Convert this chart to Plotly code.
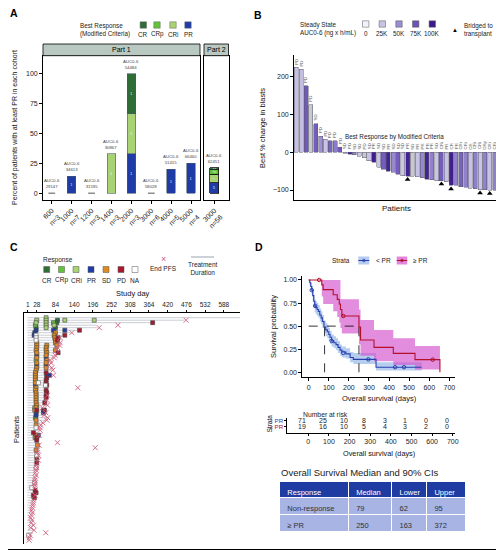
import plotly.graph_objects as go

W, H = 504, 551
OFF = 8  # the page body margin shifts the figure by 8 px
def px(v): return (v - OFF) / W
def py(v): return 1 - (v - OFF) / H

FONT = "Liberation Sans, Arial, sans-serif"
NARROW = "Liberation Sans Narrow, Liberation Sans, Arial, sans-serif"

RESP_COL = {"CR": "#2f6d37", "CRp": "#62c23a", "CRi": "#a9d275", "PR": "#1f3ca6",
            "SD": "#e08a24", "PD": "#a5182f", "NA": "#ffffff"}

# ---------------- Panel A data ----------------
a_doses = ["600", "1000", "1200", "1400", "2000", "3000", "4000", "5000"]
a_n = [3, 7, 3, 3, 3, 6, 5, 4]
a_auc = [29147, 34613, 31595, 30867, 54484, 58028, 51415, 66460]
a_pct_pr = [0, 14.3, 0, 0, 33.3, 0, 20.0, 25.0]
a_pct_cri = [0, 0, 0, 33.3, 33.3, 0, 0, 0]
a_pct_crp = [0, 0, 0, 0, 0, 0, 0, 0]
a_pct_cr = [0, 0, 0, 0, 33.4, 0, 0, 0]
a_cnt_pr = [0, 1, 0, 0, 1, 0, 1, 1]
a_cnt_cri = [0, 0, 0, 1, 1, 0, 0, 0]
a_cnt_crp = [0, 0, 0, 0, 0, 0, 0, 0]
a_cnt_cr = [0, 0, 0, 0, 1, 0, 0, 0]

a2_doses = ["3000"]
a2_n = [56]
a2_auc = [62451]
a2_pct_pr = [8.9]
a2_pct_cri = [7.1]
a2_pct_crp = [3.6]
a2_pct_cr = [1.8]
a2_cnt_pr = [5]
a2_cnt_cri = [4]
a2_cnt_crp = [2]
a2_cnt_cr = [1]

# ---------------- Panel B data ----------------
b_change = [225, 220, 176, 126, 76, 42, 35, 30, 30, 14,
            -2, -5, -6, -10, -15, -22, -27, -40, -45, -50,
            -53, -58, -62, -63, -64, -65, -68, -72, -73, -75,
            -75, -78, -88, -88, -92, -93, -95, -97, -99, -99,
            -100, -100]
b_auc = [26000, 27000, 72000, None, 70000, 48000, 25000, 68000, 58000, 72000,
         24000, 95000, 55000, 22000, None, 25000, 98000, 24000, 70000, 96000,
         52000, 70000, 24000, 97000, None, 25000, 52000, 96000, 55000, 24000,
         70000, 25000, 98000, 55000, 68000, 55000, 25000, 56000, 24000, 55000,
         25000, 56000]
b_resp = ["PD", "PD", "PD", "PD", "SD", "PD", "PD", "PD", "PD", "PD",
          "SD", "PD", "SD", "SD", "PD", "SD", "PR", "SD", "SD", "PR",
          "SD", "SD", "SD", "PR", "SD", "PR", "PR", "PR", "PR", "SD",
          "CRi", "PR", "CR", "PR", "CRi", "CRi", "CR", "CRi", "CRi", "CRp",
          "CRi", "CRi"]
b_bridged = [23, 30, 32, 38, 40]
b_auc_stops = [0, 25000, 50000, 75000, 100000]
b_auc_labels = ["0", "25K", "50K", "75K", "100K"]
b_stop_cols = ["#f3f2fa", "#c8c2e5", "#9b8ed0", "#6b52b6", "#3c1a8b"]
B_NA_COL = "#c6c9ce"

# ---------------- Panel C data ----------------
c_ticks = [1, 28, 84, 140, 196, 252, 308, 364, 420, 476, 532, 588]
c_assess = [
    [(56, "CRi")],
    [(28, "CRi"), (56, "CRi"), (90, "CR"), (112, "CRi"), (200, "CRi")],
    [(26, "CRi"), (56, "CRi"), (78, "CRp"), (88, "CR"), (375, "PD")],
    [(24, "CRp"), (56, "CRi"), (80, "CRi")],
    [(26, "CR"), (56, "CRi"), (84, "CR")],
    [(26, "PR"), (78, "PR"), (112, "PR"), (156, "PD")],
    [(22, "PR"), (84, "SD")],
    [(20, "PR"), (26, "NA"), (80, "SD"), (112, "PD")],
    [(26, "NA"), (82, "SD"), (92, "PD")],
    [(26, "NA"), (84, "SD"), (90, "PD")],
    [(28, "SD"), (84, "SD")],
    [(28, "SD"), (58, "SD"), (88, "SD")],
    [(28, "SD"), (56, "SD")],
    [(26, "SD"), (56, "SD"), (84, "SD")],
    [(28, "SD"), (58, "SD"), (92, "PD")],
    [(28, "PR"), (56, "SD")],
    [(28, "SD"), (56, "PR")],
    [(26, "CRi"), (58, "SD")],
    [(28, "SD"), (56, "SD")],
    [(28, "PR"), (56, "PR")],
    [(28, "SD"), (56, "SD")],
    [(26, "SD")],
    [(24, "SD"), (56, "PD")],
    [(24, "SD"), (58, "PR"), (66, "PR")],
    [(24, "SD"), (58, "PD")],
    [(24, "SD"), (56, "PD")],
    [(24, "SD"), (33, "NA"), (56, "PD")],
    [(24, "PR"), (54, "NA"), (58, "PD")],
    [(26, "SD")],
    [(24, "SD"), (56, "PD")],
    [(26, "SD"), (58, "PD")],
    [(26, "SD"), (56, "PD")],
    [(26, "SD"), (56, "PD")],
    [(26, "SD")],
    [(26, "SD"), (52, "PD")],
    [(28, "SD")],
    [(22, "CRi"), (26, "SD")],
    [(22, "SD"), (28, "PD"), (48, "PR"), (51, "PD")],
    [(26, "PR"), (48, "PR")],
    [(26, "PR")],
    [(24, "CRp")],
    [(26, "SD")],
    [],
    [(26, "SD")],
    [(26, "NA")],
    [],
    [(18, "PD")],
    [(24, "SD"), (26, "PR"), (33, "PR")],
    [(23, "SD"), (28, "PD")],
    [(28, "PD")],
    [],
    [(30, "SD")],
    [],
    [(26, "SD")],
    [],
    [(28, "NA")],
    [(28, "PD")],
    [],
    [(28, "PD")],
    [],
    [(26, "NA")],
    [], [], [], [], [],
    [(21, "NA")],
    [],
    [(13, "NA")],
    [(23, "PD")],
    [(26, "PD")],
    [(18, "PD")],
    [(21, "PD")],
    [], [], [], [], [], [], [], [], [], [], [], [], [], [],
    [(3, "NA")],
    [], [],
]
c_pfs = [None, 475, None, 271, 215, None, 133, None, 98, None,
         98, 96, 91, 88, None, 83, 80, 68, 71, 65,
         73, 76, None, 78, None, None, None, None, 151, None,
         None, 60, None, 58, None, 60, 45, None, 55, 50,
         61, 58, 46, 40, 38, 38, None, 36, None, None,
         90, 35, 203, 30, 30, 33, None, 33, None, 26,
         28, 26, 24, 26, 23, 22, 23, 23, 22, None,
         None, 23, None, 18, 18, 16, 15, 13, 15, 12,
         10, 14, 12, 18, 10, 20, 55, 8, 6, 5]
c_dur = [636, 470, 372, 205, 210, 150, 130, 110, 95, 90,
         95, 92, 88, 86, 90, 80, 78, 66, 70, 63,
         70, 74, 56, 70, 58, 56, 56, 58, 60, 56,
         58, 58, 56, 56, 52, 58, 44, 50, 52, 48,
         58, 55, 44, 38, 36, 36, 18, 34, 28, 28,
         32, 33, 30, 29, 28, 31, 28, 30, 28, 25,
         27, 25, 23, 24, 22, 21, 22, 21, 20, 23,
         26, 22, 21, 17, 17, 15, 14, 12, 14, 11,
         9, 13, 11, 17, 9, 19, 15, 7, 5, 4]

# ---------------- Panel D data ----------------
d_t_lt = [0, 5, 10, 15, 20, 25, 30, 35, 42, 48, 55, 62, 68, 76, 85, 93, 100, 106,
          114, 125, 136, 146, 156, 165, 185, 206, 222, 335, 562]
d_s_lt = [1.0, 0.97, 0.93, 0.89, 0.83, 0.77, 0.72, 0.70, 0.68, 0.66, 0.62, 0.59, 0.55,
          0.49, 0.46, 0.44, 0.41, 0.38, 0.34, 0.32, 0.30, 0.27, 0.24, 0.22, 0.20, 0.16,
          0.14, 0.055, 0.055]
d_hi_lt = [1.0, 1.0, 0.97, 0.94, 0.89, 0.84, 0.79, 0.77, 0.75, 0.73, 0.69, 0.66, 0.62,
           0.56, 0.53, 0.51, 0.48, 0.45, 0.41, 0.39, 0.37, 0.34, 0.30, 0.28, 0.26, 0.22,
           0.21, 0.11, 0.11]
d_lo_lt = [1.0, 0.94, 0.89, 0.84, 0.77, 0.70, 0.65, 0.63, 0.61, 0.59, 0.55, 0.52, 0.48,
           0.42, 0.39, 0.37, 0.34, 0.31, 0.28, 0.26, 0.24, 0.21, 0.18, 0.16, 0.15, 0.11,
           0.09, 0.02, 0.02]
d_cens_lt_t = [15, 32, 114, 172, 297, 430, 474]
d_cens_lt_s = [0.89, 0.72, 0.34, 0.21, 0.14, 0.055, 0.055]

d_t_ge = [0, 65, 72, 122, 142, 152, 158, 165, 250, 258, 325, 421, 529, 653]
d_s_ge = [1.0, 0.947, 0.895, 0.84, 0.79, 0.74, 0.68, 0.61, 0.49, 0.35, 0.27, 0.205,
          0.137, 0.0]
d_hi_ge = [1.0, 1.0, 1.0, 1.0, 1.0, 1.0, 0.79, 0.79, 0.68, 0.567, 0.458, 0.368, 0.285,
           0.285]
d_lo_ge = [1.0, 0.82, 0.74, 0.66, 0.60, 0.54, 0.48, 0.42, 0.30, 0.18, 0.12, 0.08, 0.03,
           0.0]
d_cens_ge_t = [52, 172, 617]
d_cens_ge_s = [1.0, 0.61, 0.137]
d_medians = [79, 250]

risk_days = [0, 100, 200, 300, 400, 500, 600, 700]
risk_lt = [71, 25, 10, 8, 3, 1, 0, 0]
risk_ge = [19, 16, 10, 5, 4, 3, 2, 0]

tbl_header = ["Response", "Median", "Lower", "Upper"]
tbl_response = ["Non-response", "≥ PR"]
tbl_median = ["79", "250"]
tbl_lower = ["62", "163"]
tbl_upper = ["95", "372"]

COL_LT = "#2a3fae"
COL_GE = "#b3102c"

fig = go.Figure()
annotations = []
shapes = []

def ann(**kw):
    kw.setdefault("xanchor", "center")
    kw.setdefault("yanchor", "middle")
    kw.setdefault("showarrow", False)
    kw.setdefault("xref", "paper")
    kw.setdefault("yref", "paper")
    annotations.append(kw)

def rect(x0, x1, y0, y1, **kw):
    shapes.append(dict(type="rect", xref="paper", yref="paper", x0=px(x0), x1=px(x1),
                       y0=py(y1), y1=py(y0), **kw))

# ================= Panel A =================
stack = [("PR", a_pct_pr, a_cnt_pr, a2_pct_pr, a2_cnt_pr),
         ("CRi", a_pct_cri, a_cnt_cri, a2_pct_cri, a2_cnt_cri),
         ("CRp", a_pct_crp, a_cnt_crp, a2_pct_crp, a2_cnt_crp),
         ("CR", a_pct_cr, a_cnt_cr, a2_pct_cr, a2_cnt_cr)]
for name, p1, c1, p2, c2 in stack:
    fig.add_trace(go.Bar(
        x=list(range(len(a_doses))), y=[v if v else None for v in p1], width=0.42,
        marker=dict(color=RESP_COL[name], line=dict(color="#4a5a6a", width=0.6)),
        text=[str(c) if c else "" for c in c1], textposition="inside",
        insidetextanchor="middle", textfont=dict(size=4, color="white"),
        xaxis="x", yaxis="y", showlegend=False, hoverinfo="skip"))
    fig.add_trace(go.Bar(
        x=list(range(len(a2_doses))), y=[v if v else None for v in p2], width=0.42,
        marker=dict(color=RESP_COL[name], line=dict(color="#111", width=0.8)),
        text=[str(c) if c else "" for c in c2], textposition="inside",
        insidetextanchor="middle", textfont=dict(size=4, color="white"),
        xaxis="x2", yaxis="y2", showlegend=False, hoverinfo="skip"))

totals1 = [a + b + c + d for a, b, c, d in zip(a_pct_pr, a_pct_cri, a_pct_crp, a_pct_cr)]
totals2 = [a + b + c + d for a, b, c, d in zip(a2_pct_pr, a2_pct_cri, a2_pct_crp, a2_pct_cr)]
zx, zy = [], []
for i, t in enumerate(totals1):
    if t == 0:
        zx += [i - 0.17, i + 0.17, None]
        zy += [0, 0, None]
fig.add_trace(go.Scatter(x=zx, y=zy, mode="lines", line=dict(color="#8c8c8c", width=1.5),
                         xaxis="x", yaxis="y", showlegend=False, hoverinfo="skip"))

for i, t in enumerate(totals1):
    ann(x=i, y=t, xref="x", yref="y", yanchor="bottom", yshift=2,
        text=f"AUC0-6<br>{a_auc[i]}", font=dict(size=4.3, color="#444"))
for i, t in enumerate(totals2):
    ann(x=i, y=t, xref="x2", yref="y2", yanchor="bottom", yshift=2,
        text=f"AUC0-6<br>{a2_auc[i]}", font=dict(size=4.3, color="#444"))

# strips
for (x0, x1, lab) in [(43, 200, "Part 1"), (204, 228.5, "Part 2")]:
    rect(x0, x1, 44, 55.7, fillcolor="#b9c8c1", line=dict(color="black", width=0.8))
    ann(x=px((x0 + x1) / 2), y=py(50), text=lab, font=dict(size=7, color="black"))

# A legend
ann(x=px(132), y=py(30), xanchor="right", align="left",
    text="Best Response<br>(Modified Criteria)", font=dict(size=6.3, color="#222"))
for name, cx in [("CR", 143.3), ("CRp", 157), ("CRi", 173), ("PR", 188)]:
    rect(cx - 3.2, cx + 3.2, 21.8, 28.2, fillcolor=RESP_COL[name],
         line=dict(color="#666", width=0.5))
    ann(x=px(cx), y=py(34.5), text=name, font=dict(size=6.3, color="#222"))

ann(x=px(15), y=py(128), textangle=-90,
    text="Percent of patients with at least PR in each cohort",
    font=dict(size=7, family=NARROW, color="#111"))

# ================= Panel B =================
def auc_color(v):
    if v is None:
        return B_NA_COL
    for j in range(len(b_auc_stops) - 1):
        if v <= b_auc_stops[j + 1]:
            f = (v - b_auc_stops[j]) / (b_auc_stops[j + 1] - b_auc_stops[j])
            c0 = [int(b_stop_cols[j][k:k + 2], 16) for k in (1, 3, 5)]
            c1 = [int(b_stop_cols[j + 1][k:k + 2], 16) for k in (1, 3, 5)]
            c = [round(a + (b - a) * f) for a, b in zip(c0, c1)]
            return "rgb(%d,%d,%d)" % tuple(c)
    return b_stop_cols[-1]

b_x = list(range(len(b_change)))
fig.add_trace(go.Bar(x=b_x, y=b_change, width=0.86,
                     marker=dict(color=[auc_color(v) for v in b_auc],
                                 line=dict(color="#5a5a6a", width=0.5)),
                     xaxis="x3", yaxis="y3", showlegend=False, hoverinfo="skip"))
fig.add_trace(go.Scatter(x=b_bridged, y=[b_change[i] - 9 for i in b_bridged], mode="markers",
                         marker=dict(symbol="triangle-up", size=5, color="black"),
                         xaxis="x3", yaxis="y3", showlegend=False, hoverinfo="skip"))
for i, v in enumerate(b_change):
    ann(x=i, y=max(v, 0), xref="x3", yref="y3", yanchor="bottom", yshift=1, textangle=-90,
        text=b_resp[i], font=dict(size=4.3, color="#555"))
ann(x=px(394), y=py(137), text="Best Response by Modified Criteria",
    font=dict(size=6.3, color="#222"))
ann(x=px(396), y=py(208), text="Patients", font=dict(size=8, family=NARROW, color="#111"))
ann(x=px(262), y=py(128), textangle=-90, text="Best % change in blasts",
    font=dict(size=7.5, family=NARROW, color="#111"))
# B legend
ann(x=px(298), y=py(29), xanchor="left", align="left",
    text="Steady State<br>AUC0-6 (ng x h/mL)", font=dict(size=6.3, color="#222"))
for cx, col, lab in zip([365.7, 382.3, 399, 415.7, 432.3], b_stop_cols, b_auc_labels):
    rect(cx - 3.2, cx + 3.2, 20.8, 27.2, fillcolor=col, line=dict(color="#555", width=0.5))
    ann(x=px(cx), y=py(33.5), text=lab, font=dict(size=6.3, color="#222"))
ann(x=px(455), y=py(29.5), text="▲", font=dict(size=6, color="black"))
ann(x=px(462), y=py(29.5), xanchor="left", align="left", text="Bridged to<br>transplant",
    font=dict(size=6.3, color="#222"))

# ================= Panel C =================
lx, ly = [], []
for k, d in enumerate(c_dur):
    lx += [0, d, None]
    ly += [k, k, None]
fig.add_trace(go.Scatter(x=lx, y=ly, mode="lines", line=dict(color="#c9ced6", width=1),
                         xaxis="x4", yaxis="y4", showlegend=False, hoverinfo="skip"))
for resp in ["CR", "CRp", "CRi", "PR", "SD", "PD", "NA"]:
    xs, ys = [], []
    for k, lst in enumerate(c_assess):
        for day, r in lst:
            if r == resp:
                xs.append(day)
                ys.append(k)
    fig.add_trace(go.Scatter(x=xs, y=ys, mode="markers",
                             marker=dict(symbol="square", size=4, color=RESP_COL[resp],
                                         line=dict(color="#444" if resp != "NA" else "#666",
                                                   width=0.6)),
                             xaxis="x4", yaxis="y4", showlegend=False, hoverinfo="skip"))
pk = [k for k, v in enumerate(c_pfs) if v is not None]
fig.add_trace(go.Scatter(x=[c_pfs[k] for k in pk], y=pk, mode="markers",
                         marker=dict(symbol="x-thin", size=5,
                                     line=dict(color="#d2607e", width=0.9)),
                         xaxis="x4", yaxis="y4", showlegend=False, hoverinfo="skip"))
ann(x=px(133), y=py(293), text="Study day", font=dict(size=7.5, family=NARROW, color="#111"))
ann(x=px(16), y=py(430), textangle=-90, text="Patients",
    font=dict(size=7.5, family=NARROW, color="#111"))
# C legend
ann(x=px(58), y=py(260), text="Response", font=dict(size=6.5, color="#222"))
for name, cx in zip(["CR", "CRp", "CRi", "PR", "SD", "PD", "NA"],
                    [46.7, 61.5, 76, 91, 106, 121, 135]):
    rect(cx - 3, cx + 3, 266.5, 272.5, fillcolor=RESP_COL[name],
         line=dict(color="#555", width=0.5))
    ann(x=px(cx), y=py(280), text=name, font=dict(size=6.5, color="#222"))
ann(x=px(163), y=py(259), text="×", font=dict(size=9, color="#d2607e"))
ann(x=px(163), y=py(269), text="End PFS", font=dict(size=6.5, color="#222"))
shapes.append(dict(type="line", xref="paper", yref="paper", x0=px(191), x1=px(214),
                   y0=py(257), y1=py(257), line=dict(color="#aab2bf", width=1.2)))
ann(x=px(203), y=py(268), text="Treatment<br>Duration", font=dict(size=6.5, color="#222"))

# ================= Panel D =================
fig.add_trace(go.Scatter(x=d_t_lt, y=d_lo_lt, mode="lines", line=dict(width=0, shape="hv"),
                         xaxis="x5", yaxis="y5", showlegend=False, hoverinfo="skip"))
fig.add_trace(go.Scatter(x=d_t_lt, y=d_hi_lt, mode="lines", line=dict(width=0, shape="hv"),
                         fill="tonexty", fillcolor="rgba(120,165,225,0.55)",
                         xaxis="x5", yaxis="y5", showlegend=False, hoverinfo="skip"))
fig.add_trace(go.Scatter(x=d_t_ge, y=d_lo_ge, mode="lines", line=dict(width=0, shape="hv"),
                         xaxis="x5", yaxis="y5", showlegend=False, hoverinfo="skip"))
fig.add_trace(go.Scatter(x=d_t_ge, y=d_hi_ge, mode="lines", line=dict(width=0, shape="hv"),
                         fill="tonexty", fillcolor="rgba(212,80,205,0.65)",
                         xaxis="x5", yaxis="y5", showlegend=False, hoverinfo="skip"))
fig.add_trace(go.Scatter(x=d_t_lt, y=d_s_lt, mode="lines",
                         line=dict(color=COL_LT, width=1.1, shape="hv"),
                         xaxis="x5", yaxis="y5", showlegend=False, hoverinfo="skip"))
fig.add_trace(go.Scatter(x=d_t_ge, y=d_s_ge, mode="lines",
                         line=dict(color=COL_GE, width=1.1, shape="hv"),
                         xaxis="x5", yaxis="y5", showlegend=False, hoverinfo="skip"))
fig.add_trace(go.Scatter(x=d_cens_lt_t, y=d_cens_lt_s, mode="markers",
                         marker=dict(symbol="circle-open", size=3.5, color=COL_LT,
                                     line=dict(width=1)),
                         xaxis="x5", yaxis="y5", showlegend=False, hoverinfo="skip"))
fig.add_trace(go.Scatter(x=d_cens_ge_t, y=d_cens_ge_s, mode="markers",
                         marker=dict(symbol="circle-open", size=3.5, color=COL_GE,
                                     line=dict(width=1)),
                         xaxis="x5", yaxis="y5", showlegend=False, hoverinfo="skip"))
mx = [0, max(d_medians), None]
my = [0.5, 0.5, None]
for m in d_medians:
    mx += [m, m, None]
    my += [0, 0.5, None]
fig.add_trace(go.Scatter(x=mx, y=my, mode="lines",
                         line=dict(color="black", width=0.8, dash="dash"),
                         xaxis="x5", yaxis="y5", showlegend=False, hoverinfo="skip"))

ann(x=px(379), y=py(398), text="Overall survival (days)",
    font=dict(size=7.5, family=NARROW, color="#111"))
ann(x=px(273), y=py(327), textangle=-90, text="Survival probability",
    font=dict(size=7.5, family=NARROW, color="#111"))
# D legend
ann(x=px(341), y=py(260.7), text="Strata", font=dict(size=6.5, color="#222"))
for (x0, x1, fc, lc, lab, lx_) in [(358.3, 369.3, "#b7cbef", COL_LT, "&lt; PR", 383),
                                    (396.7, 407.2, "#e486dc", COL_GE, "≥ PR", 420.5)]:
    rect(x0, x1, 256.5, 264.5, fillcolor=fc, line=dict(width=0))
    shapes.append(dict(type="line", xref="paper", yref="paper", x0=px(x0), x1=px(x1),
                       y0=py(260.5), y1=py(260.5), line=dict(color=lc, width=1)))
    shapes.append(dict(type="circle", xref="paper", yref="paper", x0=px((x0 + x1) / 2 - 1.3),
                       x1=px((x0 + x1) / 2 + 1.3), y0=py(261.8), y1=py(259.2),
                       line=dict(color=lc, width=0.8)))
    ann(x=px(lx_), y=py(260.7), text=lab, font=dict(size=6.5, color="#222"))

# Risk table
ann(x=px(301), y=py(414), xanchor="left", text="Number at risk",
    font=dict(size=6.8, color="#222"))
for d, n1, n2 in zip(risk_days, risk_lt, risk_ge):
    ann(x=d, y=1, xref="x6", yref="y6", xshift=-6, text=str(n1),
        font=dict(size=7, color="#222"))
    ann(x=d, y=0, xref="x6", yref="y6", xshift=-6, text=str(n2),
        font=dict(size=7, color="#222"))
ann(x=px(379), y=py(453), text="Overall survival (days)",
    font=dict(size=7.3, family=NARROW, color="#111"))
ann(x=px(268.5), y=py(424), textangle=-90, text="Strata",
    font=dict(size=6.5, family=NARROW, color="#111"))

# Table
ann(x=px(279), y=py(472), xanchor="left", text="Overall Survival Median and 90% CIs",
    font=dict(size=9.5, color="#222"))
fig.add_trace(go.Table(
    domain=dict(x=[px(279.3), px(465.7)], y=[py(532), py(481.3)]),
    columnwidth=[69, 43.4, 35, 39],
    header=dict(values=tbl_header, fill_color="#1e3ca2", line=dict(color="white", width=1),
                align="left", height=16.4, font=dict(size=7.5, color="white", family=FONT)),
    cells=dict(values=[tbl_response, tbl_median, tbl_lower, tbl_upper],
               fill_color="#a8b4e4", line=dict(color="white", width=1), align="left",
               height=16.7, font=dict(size=7.5, color="#333", family=FONT))))

# outer frame (right and bottom edges fall inside the window)
rect(0.5, 503.5, 0.5, 549.5, line=dict(color="black", width=1))

# panel labels (kept inside the figure's own canvas)
for lab, x, y in [("A", 8.3, 13), ("B", 252, 15), ("C", 8.3, 247), ("D", 253, 247)]:
    ann(x=px(x), y=py(y), xanchor="left", text=f"<b>{lab}</b>",
        font=dict(size=10.5, color="black"))

lax = dict(showgrid=False, zeroline=False, showline=True, linecolor="black", linewidth=0.8,
           ticks="outside", ticklen=3, tickwidth=0.8, tickcolor="black", automargin=False,
           tickfont=dict(size=7, color="#222", family=FONT))

fig.update_layout(
    width=W, height=H, autosize=False,
    margin=dict(l=0, r=0, t=0, b=0, pad=0, autoexpand=False),
    paper_bgcolor="white", plot_bgcolor="white", barmode="stack",
    font=dict(family=FONT, color="#222"),
    xaxis=dict(lax, domain=[px(43), px(200)], range=[-0.44, 7.45], anchor="y", mirror=True,
               tickvals=list(range(len(a_doses))), tickangle=-45,
               ticktext=[f"{d}<br>n={n}" for d, n in zip(a_doses, a_n)]),
    yaxis=dict(lax, domain=[py(200), py(55.7)], range=[-5.6, 115.3], anchor="x", mirror=True,
               tickvals=[0, 25, 50, 75, 100]),
    xaxis2=dict(lax, domain=[px(204), px(228.5)], range=[-0.5, 0.7], anchor="y2", mirror=True,
                tickvals=[0], tickangle=-45,
                ticktext=[f"{d}<br>n={n}" for d, n in zip(a2_doses, a2_n)]),
    yaxis2=dict(lax, domain=[py(200), py(55.7)], range=[-5.6, 115.3], anchor="x2", mirror=True,
                ticks="", showticklabels=False),
    xaxis3=dict(lax, domain=[px(294), px(497)], range=[-0.5, 41.5], anchor="y3", ticks="",
                showticklabels=False),
    yaxis3=dict(lax, domain=[py(200), py(55)], range=[-126.5, 258], anchor="x3",
                tickvals=[-100, 0, 100, 200]),
    xaxis4=dict(lax, domain=[px(24), px(240)], range=[-10.2, 636.5], anchor="y4", side="top",
                tickvals=c_ticks, ticklen=2, tickfont=dict(size=6.5, color="#222")),
    yaxis4=dict(lax, domain=[py(544), py(312.7)], range=[90.5, -2], anchor="x4", ticks="",
                showticklabels=False),
    xaxis5=dict(lax, domain=[px(302.3), px(455)], range=[-31.9, 728], anchor="y5",
                tickvals=[0, 100, 200, 300, 400, 500, 600, 700]),
    yaxis5=dict(lax, domain=[py(377.3), py(276)], range=[-0.054, 1.043], anchor="x5",
                tickvals=[0, 0.25, 0.5, 0.75, 1.0],
                ticktext=["0.00", "0.25", "0.50", "0.75", "1.00"]),
    xaxis6=dict(lax, domain=[px(287.3), px(455)], range=[-101.8, 711], anchor="y6",
                tickvals=risk_days, ticklen=2),
    yaxis6=dict(lax, domain=[py(432.7), py(417.7)], range=[-1, 1.5], anchor="x6",
                tickvals=[1, 0], ticklen=2, tickfont=dict(size=6.2, family=FONT),
                ticktext=[f"<span style='color:{COL_LT}'>&lt; PR</span>",
                          f"<span style='color:{COL_GE}'>≥ PR</span>"]),
    annotations=annotations, shapes=shapes,
)

fig.write_html("out.html")
